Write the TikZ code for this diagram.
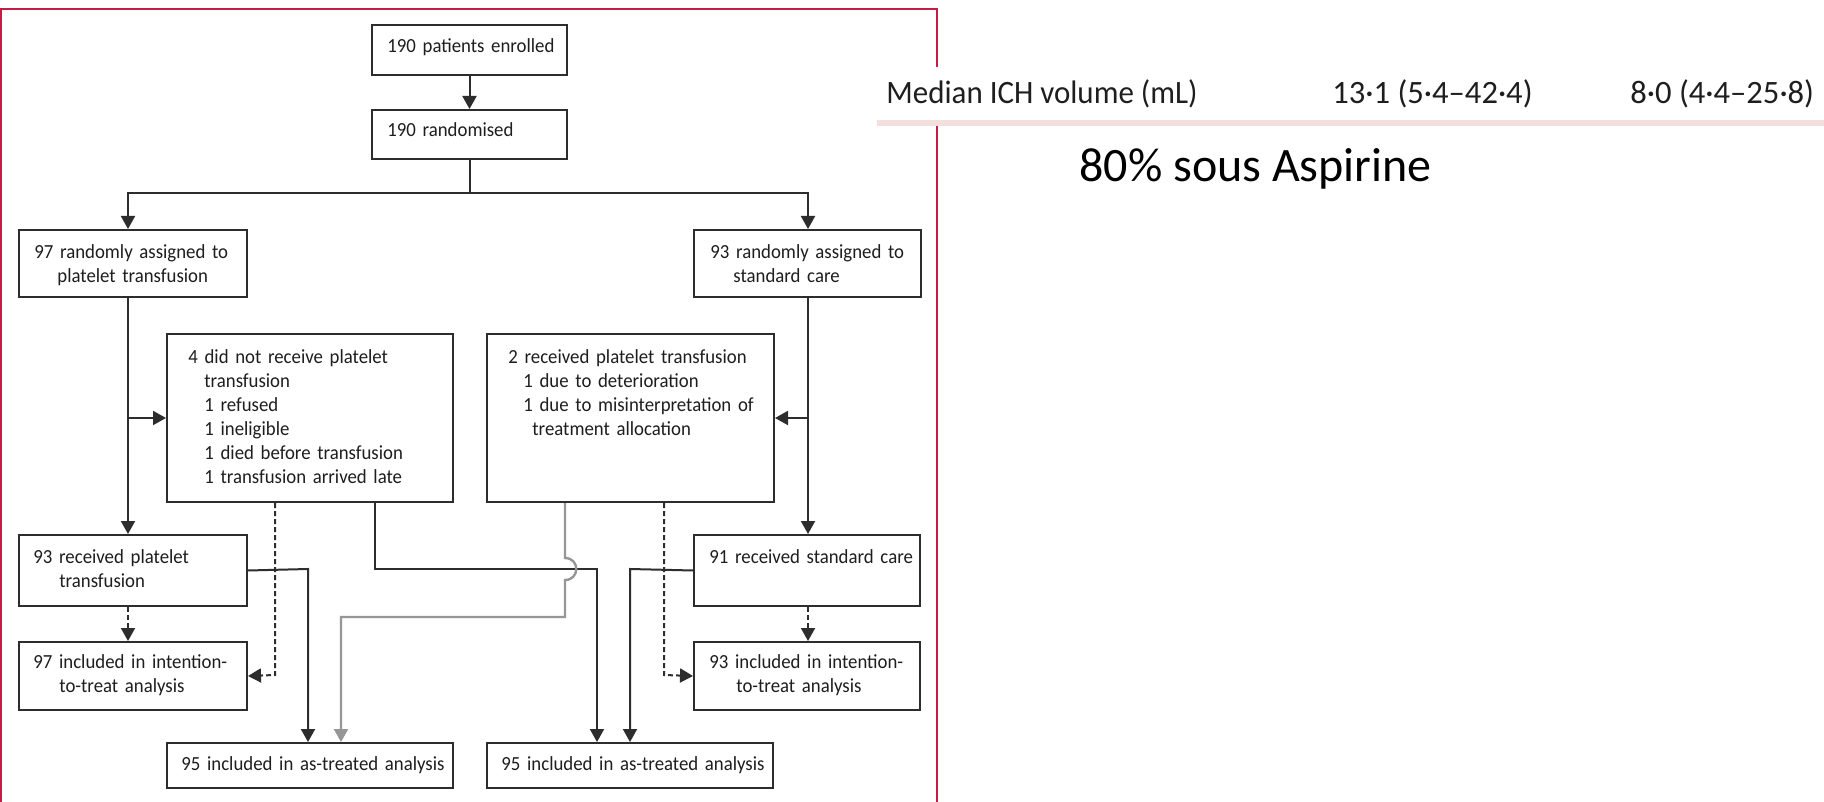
\documentclass[tikz,border=0pt]{standalone}
\usepackage{fontspec}
\setmainfont{Carlito}
\newfontfamily\chartfont[FakeStretch=0.94]{Carlito}
\newfontfamily\tablefont[FakeStretch=0.95]{Carlito}
\usetikzlibrary{arrows.meta}

\definecolor{framered}{RGB}{196,28,68}
\definecolor{ink}{RGB}{30,30,30}
\definecolor{boxline}{RGB}{45,45,45}
\definecolor{jumpgray}{RGB}{150,150,150}
\definecolor{rulepink}{RGB}{244,222,222}

\tikzset{
  sz/.style 2 args={minimum width=#1*0.5pt, minimum height=#2*0.5pt},
  flowbox/.style={draw=boxline, line width=1pt, fill=white, inner sep=0pt, anchor=north west},
  txt/.style={inner sep=0pt, anchor=base west, align=left, text width=150pt, text=ink,
              font=\chartfont\fontsize{10}{12}\selectfont},
  link/.style={draw=boxline, line width=1pt},
  arrow/.style={link, -{Triangle[length=6.5pt,width=7pt]}},
  dasharrow/.style={arrow, dash pattern=on 2.5pt off 1.5pt},
  grayarrow/.style={draw=jumpgray, line width=1.2pt, -{Triangle[length=6.5pt,width=7pt]}},
  tabletxt/.style={inner sep=0pt, anchor=base west, text=ink, font=\tablefont\fontsize{16.3}{19}\selectfont},
  tablenum/.style={inner sep=0pt, anchor=base west, text=ink, font=\fontsize{16.3}{19}\selectfont},
}

\begin{document}
\begin{tikzpicture}[x=0.5pt, y=-0.5pt]
\useasboundingbox (0,0) rectangle (1824,802);
\fill[white] (0,0) rectangle (1824,802);

% outer frame round the flow chart
\draw[framered, line width=1pt] (1,802) -- (1,9) -- (937,9) -- (937,802);

% boxes
\node[flowbox, sz={195}{50}]  (enr)    at (371,24)  {};
\node[flowbox, sz={195}{49}]  (rnd)    at (371,109) {};
\node[flowbox, sz={228}{67}]  (ptA)    at (18,229)  {};
\node[flowbox, sz={227}{67}]  (scA)    at (693,229) {};
\node[flowbox, sz={286}{168}] (notrec) at (166,333) {};
\node[flowbox, sz={287}{168}] (recv)   at (486,333) {};
\node[flowbox, sz={228}{71}]  (ptR)    at (18,534)  {};
\node[flowbox, sz={226}{71}]  (scR)    at (693,534) {};
\node[flowbox, sz={228}{68}]  (ittL)   at (18,641)  {};
\node[flowbox, sz={226}{68}]  (ittR)   at (693,641) {};
\node[flowbox, sz={286}{45}]  (atL)    at (166,742) {};
\node[flowbox, sz={286}{45}]  (atR)    at (486,742) {};

% box texts
\node[txt] (enrT)    at ([shift={(16,29)}]enr.north west) {190 patients enrolled};
\node[txt] (rndT)    at ([shift={(16,28)}]rnd.north west) {190 randomised};
\node[txt] (ptAT)    at ([shift={(16,29)}]ptA.north west) {97 randomly assigned to\\\hspace*{11.5pt}platelet transfusion};
\node[txt] (scAT)    at ([shift={(17,29)}]scA.north west) {93 randomly assigned to\\\hspace*{11.5pt}standard care};
\node[txt] (notrecT) at ([shift={(22,30)}]notrec.north west) {4 did not receive platelet\\\hspace*{8pt}transfusion\\\hspace*{8pt}1 refused\\\hspace*{8pt}1 ineligible\\\hspace*{8pt}1 died before transfusion\\\hspace*{8pt}1 transfusion arrived late};
\node[txt] (recvT)   at ([shift={(22,30)}]recv.north west) {2 received platelet transfusion\\\hspace*{7.5pt}1 due to deterioration\\\hspace*{7.5pt}1 due to misinterpretation of\\\hspace*{12pt}treatment allocation};
\node[txt] (ptRT)    at ([shift={(15,29)}]ptR.north west) {93 received platelet\\\hspace*{13pt}transfusion};
\node[txt] (scRT)    at ([shift={(16,29)}]scR.north west) {91 received standard care};
\node[txt] (ittLT)   at ([shift={(15,27)}]ittL.north west) {97 included in intention-\\\hspace*{13pt}to-treat analysis};
\node[txt] (ittRT)   at ([shift={(16,27)}]ittR.north west) {93 included in intention-\\\hspace*{13.5pt}to-treat analysis};
\node[txt] (atLT)    at ([shift={(15,28)}]atL.north west) {95 included in as-treated analysis};
\node[txt] (atRT)    at ([shift={(15,28)}]atR.north west) {95 included in as-treated analysis};

% routing points
\coordinate (colL) at (128,193);
\coordinate (colR) at (808,193);
\coordinate (dL)   at (275,675);
\coordinate (dR)   at (664,675);
\coordinate (aL1)  at (308,569);
\coordinate (nL)   at (375,569);
\coordinate (aR1)  at (597,569);
\coordinate (aR2)  at (630,569);
\coordinate (gTop) at (565,558);
\coordinate (gBot) at (565,580);
\coordinate (gTurn) at (565,617);
\coordinate (aL2)  at (341,617);

% enrolment and randomisation
\draw[arrow] (enr.south) -- (rnd.north);
\draw[arrow] (rnd.south) |- (colL) -- (colL |- ptA.north);
\draw[arrow] (rnd.south) |- (colR) -- (colR |- scA.north);

% allocation columns
\draw[arrow] (ptA.south -| colL) -- (ptR.north -| colL);
\draw[arrow] (colL |- notrec.west) -- (notrec.west);
\draw[arrow] (scA.south -| colR) -- (scR.north -| colR);
\draw[arrow] (colR |- recv.east) -- (recv.east);

% intention-to-treat (dashed)
\draw[dasharrow] (ptR.south -| colL) -- (ittL.north -| colL);
\draw[dasharrow] (scR.south -| colR) -- (ittR.north -| colR);
\draw[dasharrow] (notrec.south -| dL) -- (dL) -- (ittL.east);
\draw[dasharrow] (recv.south -| dR) -- (dR) -- (ittR.west);

% as-treated
\draw[arrow] (ptR.east) -- (aL1) -- (aL1 |- atL.north);
\draw[arrow] (notrec.south -| nL) -- (nL) -- (aR1) -- (aR1 |- atR.north);
\draw[arrow] (scR.west) -- (aR2) -- (aR2 |- atR.north);
\draw[grayarrow] (recv.south -| gTop) -- (gTop) .. controls (580,558) and (580,580) .. (gBot)
  -- (gTurn) -- (aL2) -- (aL2 |- atL.north);

% table row laid over the frame
\fill[white] (877,67) rectangle (1824,120);
\fill[rulepink] (877,120) rectangle (1824,126);
\node[tabletxt] (medLbl) at (886,104)  {Median ICH volume (mL)};
\node[tablenum] (medA)   at (1332,104) {13·1 (5·4–42·4)};
\node[tablenum] (medB)   at (1630,104) {8·0 (4·4–25·8)};

\node[inner sep=0pt, anchor=base west, text=black, font=\fontsize{24}{28}\selectfont] (note) at (1079,182) {80\% sous Aspirine};
\end{tikzpicture}
\end{document}
